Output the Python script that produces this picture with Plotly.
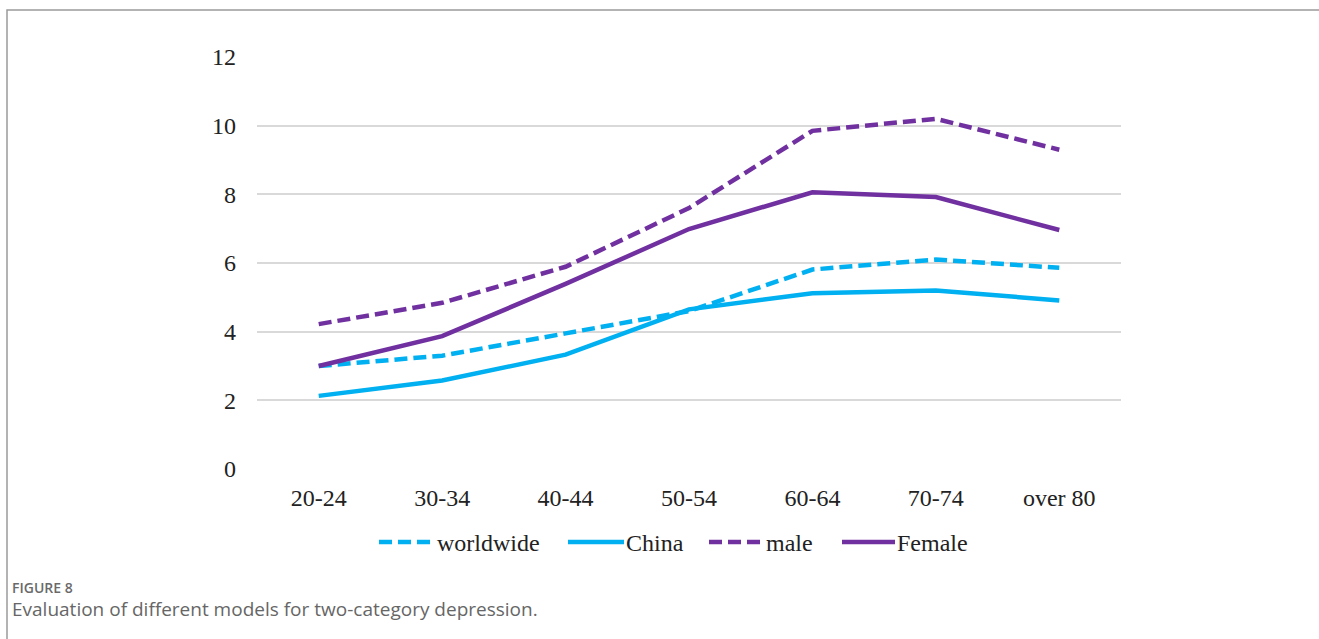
import plotly.graph_objects as go

categories = ["20-24", "30-34", "40-44", "50-54", "60-64", "70-74", "over 80"]
worldwide = [3.00, 3.30, 3.95, 4.60, 5.81, 6.10, 5.86]
china = [2.13, 2.58, 3.33, 4.65, 5.12, 5.20, 4.91]
male = [4.22, 4.84, 5.89, 7.60, 9.85, 10.20, 9.30]
female = [3.00, 3.87, 5.39, 6.99, 8.06, 7.92, 6.96]
y_ticks = [0, 2, 4, 6, 8, 10, 12]
series_names = ["worldwide", "China", "male", "Female"]

CYAN = "#00B0F0"
PURPLE = "#7030A0"
DASH = "13px,6px"

W, H = 1319, 639
L, R, T, B = 257, 198, 57, 170
pw, ph = W - L - R, H - T - B

def px_x(x):
    return (x - L) / pw

def px_y(y):
    return (H - B - y) / ph

SERIF = "Liberation Serif, Times New Roman, serif"

fig = go.Figure()
styles = [(CYAN, DASH), (CYAN, "solid"), (PURPLE, DASH), (PURPLE, "solid")]
values = [worldwide, china, male, female]
for name, vals, (col, dash) in zip(series_names, values, styles):
    fig.add_trace(go.Scatter(
        x=categories, y=vals, name=name, mode="lines",
        line=dict(color=col, width=4.5, dash=dash),
        hoverinfo="skip", showlegend=False,
    ))

# manual legend (symbol start/end x, text start x) in pixels
legend_pos = [(379, 432, 437), (568, 624, 626), (709, 762, 766), (842, 895, 897)]
legend_y = 542
shapes = [
    dict(type="rect", xref="paper", yref="paper",
         x0=px_x(7), x1=px_x(1340), y0=px_y(660), y1=px_y(10),
         line=dict(color="#9A9A9A", width=1.5), fillcolor="rgba(0,0,0,0)",
         layer="below"),
]
annotations = []
for name, (col, dash), (x0, x1, tx) in zip(series_names, styles, legend_pos):
    shapes.append(dict(type="line", xref="paper", yref="paper",
                       x0=px_x(x0), x1=px_x(x1), y0=px_y(legend_y), y1=px_y(legend_y),
                       line=dict(color=col, width=4.5, dash=dash)))
    annotations.append(dict(text=name, xref="paper", yref="paper",
                            x=px_x(tx), y=px_y(legend_y + 1), xanchor="left", yanchor="middle",
                            showarrow=False, xshift=-2,
                            font=dict(family=SERIF, size=24, color="#222")))

annotations += [
    dict(text="FIGURE 8", xref="paper", yref="paper",
         x=px_x(12), y=px_y(587), xanchor="left", yanchor="middle",
         showarrow=False, xshift=-2,
         font=dict(family="Open Sans, sans-serif", size=14, color="#6A6A6A", weight=600)),
    dict(text="Evaluation of different models for two-category depression.",
         xref="paper", yref="paper",
         x=px_x(12), y=px_y(609), xanchor="left", yanchor="middle",
         showarrow=False, xshift=-2,
         font=dict(family="Open Sans, sans-serif", size=19, color="#666666")),
]

fig.update_layout(
    width=W, height=H,
    margin=dict(l=L, r=R, t=T, b=B, autoexpand=False),
    paper_bgcolor="white", plot_bgcolor="white",
    font=dict(family=SERIF, size=24, color="#222"),
    showlegend=False,
    xaxis=dict(
        type="category", range=[-0.5, 6.5], showgrid=False,
        showline=False, zeroline=False, ticks="", ticklabelstandoff=12,
        tickfont=dict(size=24),
    ),
    yaxis=dict(
        range=[0, 12], tickvals=y_ticks, showgrid=True,
        gridcolor="#D9D9D9", gridwidth=1.5, zeroline=False,
        showline=False, ticks="", ticklabelstandoff=20,
        tickfont=dict(size=24),
    ),
    shapes=shapes,
    annotations=annotations,
)

fig.write_html("out.html", config={"displayModeBar": False},
               post_script="document.body.style.margin='0';document.body.style.padding='0';")
